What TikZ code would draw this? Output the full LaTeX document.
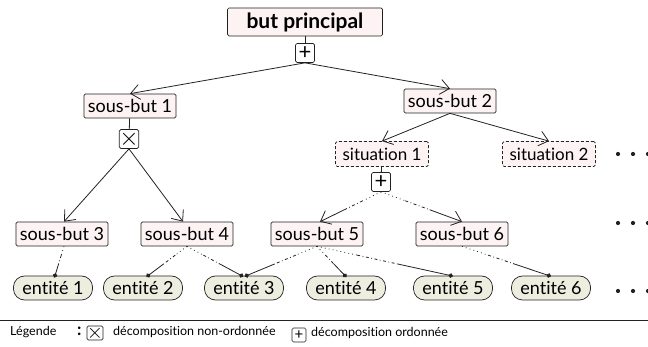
\documentclass[tikz,border=0pt]{standalone}
\usepackage{fontspec}
\setmainfont{Lato}[Ligatures=NoCommon]
\usetikzlibrary{arrows.meta,calc}
\definecolor{boxfill}{HTML}{FDF3F3}
\definecolor{entfill}{HTML}{EDEEE0}
\definecolor{ink}{HTML}{222222}
\tikzset{
  goal/.style={draw=ink, fill=boxfill, rounded corners=1.5pt, line width=0.7pt,
    inner xsep=4pt, inner ysep=0pt, minimum height=24pt, font=\fontsize{18}{20}\selectfont},
  topgoal/.style={goal, minimum height=28pt, minimum width=155pt, font=\fontsize{21}{23}\selectfont\bfseries},
  situ/.style={goal, dash pattern=on 3pt off 2pt, minimum height=25pt, inner xsep=7pt, font=\fontsize{17}{19}\selectfont},
  entity/.style={draw=ink, fill=entfill, rounded corners=11pt, line width=0.7pt,
    minimum height=24pt, minimum width=79pt, inner xsep=6pt, inner ysep=0pt, font=\fontsize{18}{20}\selectfont},
  opbox/.style={draw=ink, fill=white, rounded corners=1.5pt, line width=0.7pt,
    minimum size=19pt, inner sep=0pt, font=\fontsize{22}{22}\selectfont},
  legbox/.style={opbox, minimum size=14pt, font=\fontsize{15}{15}\selectfont},
  legtext/.style={font=\fontsize{12.5}{15}\selectfont, inner sep=0pt},
  link/.style={draw=ink, line width=0.8pt},
  arr/.style={link, -{Straight Barb[length=9pt,width=15pt,line width=0.8pt]}},
  dotend/.style={link, -{Circle[length=4.5pt]}, shorten >=-2pt},
  sparse/.style={link, dash pattern=on 0.8pt off 3.2pt},
  dashdotted/.style={link, dash pattern=on 3pt off 2.5pt on 0.8pt off 2.5pt},
}
% line that goes from dotted to dash-dot to solid
\newcommand\fadeline[3]{%
  \draw[sparse] (#2) -- ($(#2)!0.3!(#3)$);
  \draw[dashdotted] ($(#2)!0.3!(#3)$) -- ($(#2)!0.6!(#3)$);
  \draw[#1] ($(#2)!0.6!(#3)$) -- (#3);
}
\begin{document}
\begin{tikzpicture}[x=1pt, y=-1pt]
  \useasboundingbox (0,0) rectangle (648,347);

  % goals
  \node[topgoal] (bp) at (305,22) {but principal};
  \node[opbox] (p0) at (305,53) {+};
  \node[goal] (sb1) at (130,106) {sous-but 1};
  \node[opbox, font=\fontsize{28}{28}\selectfont] (x1) at (129,139) {$\times$};
  \node[goal] (sb2) at (450,101) {sous-but 2};
  \node[situ] (s1) at (382,154) {situation 1};
  \node[situ] (s2) at (549,154) {situation 2};
  \node[opbox] (p1) at (381,182) {+};
  \node[goal] (sb3) at (62,234) {sous-but 3};
  \node[goal] (sb4) at (187,234) {sous-but 4};
  \node[goal] (sb5) at (317,234) {sous-but 5};
  \node[goal] (sb6) at (462,234) {sous-but 6};

  % entities
  \node[entity] (e1) at (53,288) {entité 1};
  \node[entity] (e2) at (143,288) {entité 2};
  \node[entity] (e3) at (244,288) {entité 3};
  \node[entity] (e4) at (346,288) {entité 4};
  \node[entity] (e5) at (453,288) {entité 5};
  \node[entity] (e6) at (551,288) {entité 6};

  % decomposition links
  \draw[link] (bp) -- (p0);
  \draw[arr] (p0.south) -- (sb1.north);
  \draw[arr] (p0.south) -- (sb2.north);
  \draw[link] (sb1) -- (x1);
  \draw[arr] (x1.south) -- ([xshift=2pt]sb3.north);
  \draw[arr] (x1.south) -- ([xshift=-4pt]sb4.north);
  \draw[arr] (sb2.south) -- (s1.north);
  \draw[arr] (sb2.south) -- (s2.north);
  \draw[link] (s1) -- (p1);
  \fadeline{arr}{p1.south}{[xshift=3pt]sb5.north}
  \fadeline{arr}{p1.south}{sb6.north}

  % entity links
  \coordinate (e1t) at ([xshift=2pt]e1.north);
  \coordinate (e2t) at ([xshift=5pt]e2.north);
  \coordinate (e3l) at ([xshift=-2.5pt]e3.north);
  \coordinate (e3r) at ([xshift=2.5pt]e3.north);
  \coordinate (e4t) at ([xshift=-1pt]e4.north);
  \coordinate (e5t) at ([xshift=-2pt]e5.north);
  \coordinate (e6t) at ([xshift=-2pt]e6.north);
  \fadeline{dotend}{[xshift=2pt]sb3.south}{e1t}
  \fadeline{dotend}{sb4.south}{e2t}
  \fadeline{dotend}{sb4.south}{e3l}
  \fadeline{dotend}{sb5.south}{e3r}
  \fadeline{dotend}{sb5.south}{e4t}
  \fadeline{dotend}{sb5.south}{e5t}
  \fadeline{dotend}{sb6.south}{e6t}

  % continuation marks
  \foreach \yy in {154,223,291}
    \foreach \xx in {618,633,648}
      \fill[ink] (\xx,\yy) circle (2.1pt);

  % legend
  \draw[ink, line width=0.6pt] (0,320) -- (648,320);
  \node[legtext, anchor=west] (leg) at (10,332) {Légende};
  \node[legtext, anchor=west] (colon) at (77,331) {\fontsize{17}{17}\selectfont\bfseries :};
  \node[legbox, font=\fontsize{20}{20}\selectfont] (lx) at (95,333) {$\times$};
  \node[legtext, anchor=west] (lxt) at (113,332) {décomposition non-ordonnée};
  \node[legbox] (lp) at (299,335) {+};
  \node[legtext, anchor=west] (lpt) at (311,333) {décomposition ordonnée};
\end{tikzpicture}
\end{document}
